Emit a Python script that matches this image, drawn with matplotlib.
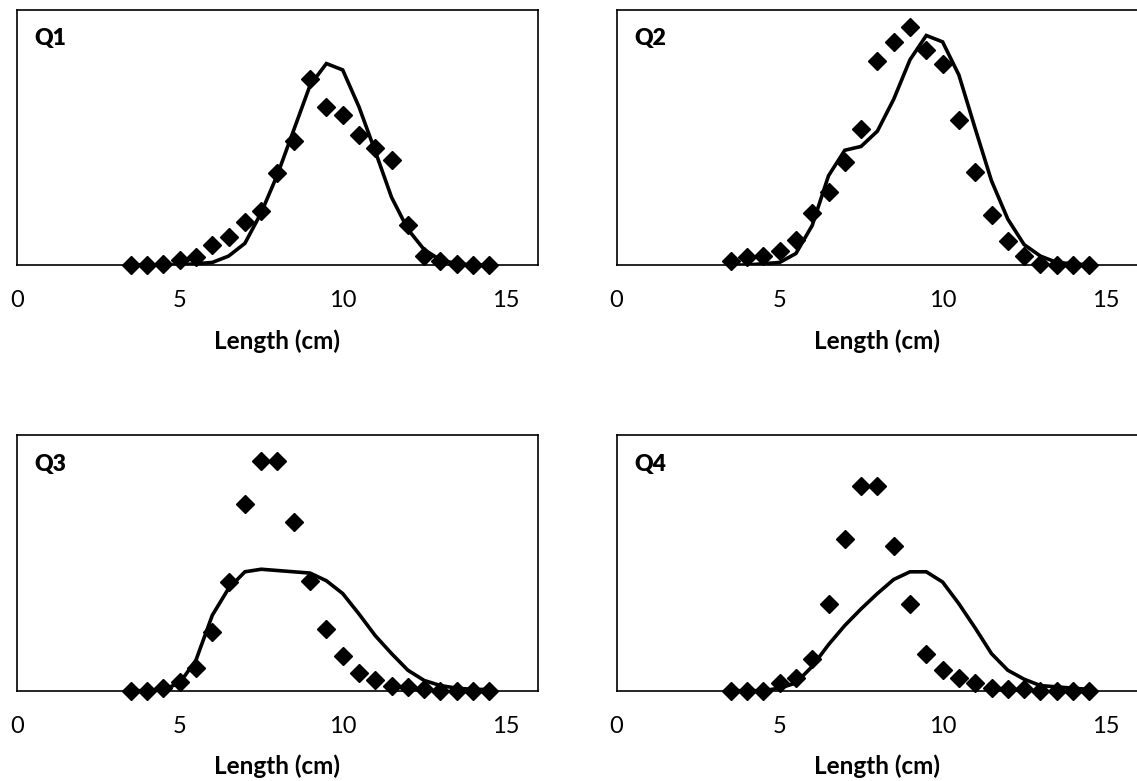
import numpy as np
import matplotlib
matplotlib.use("Agg")
import matplotlib.pyplot as plt

plt.rcParams['font.family'] = ['Lato', 'DejaVu Sans']

# length classes (cm)
length_cm = [3.5, 4.0, 4.5, 5.0, 5.5, 6.0, 6.5, 7.0, 7.5, 8.0, 8.5, 9.0,
             9.5, 10.0, 10.5, 11.0, 11.5, 12.0, 12.5, 13.0, 13.5, 14.0, 14.5]

# observed frequency (%) per quarter
obs_q1 = [0, 0, 0.1, 0.4, 0.6, 1.6, 2.2, 3.4, 4.2, 7.2, 9.7, 14.6,
          12.4, 11.8, 10.2, 9.2, 8.2, 3.1, 0.7, 0.3, 0.1, 0, 0]
obs_q2 = [0.3, 0.6, 0.7, 1.1, 2.0, 4.1, 5.7, 8.1, 10.7, 16.0, 17.5, 18.7,
          16.9, 15.8, 11.4, 7.3, 3.9, 1.9, 0.7, 0.1, 0, 0, 0]
obs_q3 = [0, 0, 0.2, 0.7, 1.8, 4.6, 8.5, 14.6, 18.0, 18.0, 13.2, 8.6,
          4.8, 2.7, 1.4, 0.8, 0.4, 0.3, 0.1, 0, 0, 0, 0]
obs_q4 = [0, 0, 0, 0.6, 1.0, 2.5, 6.8, 11.9, 16.0, 16.0, 11.3, 6.8,
          2.9, 1.6, 1.0, 0.6, 0.2, 0.1, 0.1, 0, 0, 0, 0]

# model fit (%) per quarter
fit_q1 = [0, 0, 0, 0, 0.1, 0.2, 0.7, 1.7, 4.1, 7.1, 10.6, 14.1,
          15.8, 15.3, 12.4, 8.9, 5.3, 2.8, 1.2, 0.4, 0.1, 0, 0]
fit_q2 = [0, 0, 0.1, 0.2, 0.9, 3.1, 7.0, 9.0, 9.3, 10.5, 13.0, 16.1,
          18.0, 17.5, 14.9, 10.7, 6.6, 3.6, 1.6, 0.7, 0.2, 0.1, 0]
fit_q3 = [0, 0, 0.1, 0.6, 2.4, 5.9, 8.0, 9.3, 9.5, 9.4, 9.3, 9.2,
          8.6, 7.6, 6.0, 4.3, 2.9, 1.6, 0.8, 0.4, 0.2, 0.1, 0.1]
fit_q4 = [0, 0, 0, 0.2, 0.6, 1.9, 3.6, 5.1, 6.4, 7.6, 8.7, 9.3,
          9.3, 8.5, 6.8, 4.9, 2.9, 1.6, 0.9, 0.4, 0.3, 0.2, 0.1]

quarters = ['Q1', 'Q2', 'Q3', 'Q4']
observed = [obs_q1, obs_q2, obs_q3, obs_q4]
fitted = [fit_q1, fit_q2, fit_q3, fit_q4]
x_ticks = [0, 5, 10, 15]

W, H = 1137, 781
fig = plt.figure(figsize=(W / 100, H / 100), dpi=100)

# panel boxes in pixels: left, top, right, bottom
boxes = [(16.7, 10, 538.3, 265),
         (616.6, 10, 1138.2, 265),
         (16.7, 435, 538.3, 690.7),
         (616.6, 435, 1138.2, 690.7)]

for name, obs, fit, (l, t, r, b) in zip(quarters, observed, fitted, boxes):
    ax = fig.add_axes([l / W, 1 - b / H, (r - l) / W, (b - t) / H])
    ax.plot(length_cm, fit, color='black', lw=2.6, solid_joinstyle='miter', zorder=2)
    ax.plot(length_cm, obs, ls='none', marker='D', ms=9, color='black', zorder=3,
            clip_on=False)
    ax.set_xlim(0, 16)
    ax.set_ylim(0, 20)
    ax.set_xticks(x_ticks)
    ax.set_yticks([])
    ax.tick_params(axis='x', length=0, pad=18, labelsize=17)
    ax.set_xlabel('Length (cm)', fontsize=17.5, fontweight='bold', labelpad=13)
    for sp in ax.spines.values():
        sp.set_linewidth(1.2)
        sp.set_color('black')
    ax.text(18 / (r - l), 1 - 29 / (b - t), name, transform=ax.transAxes,
            fontsize=16.5, fontweight='heavy', va='center', ha='left')

fig.savefig('out.png', dpi=100)
